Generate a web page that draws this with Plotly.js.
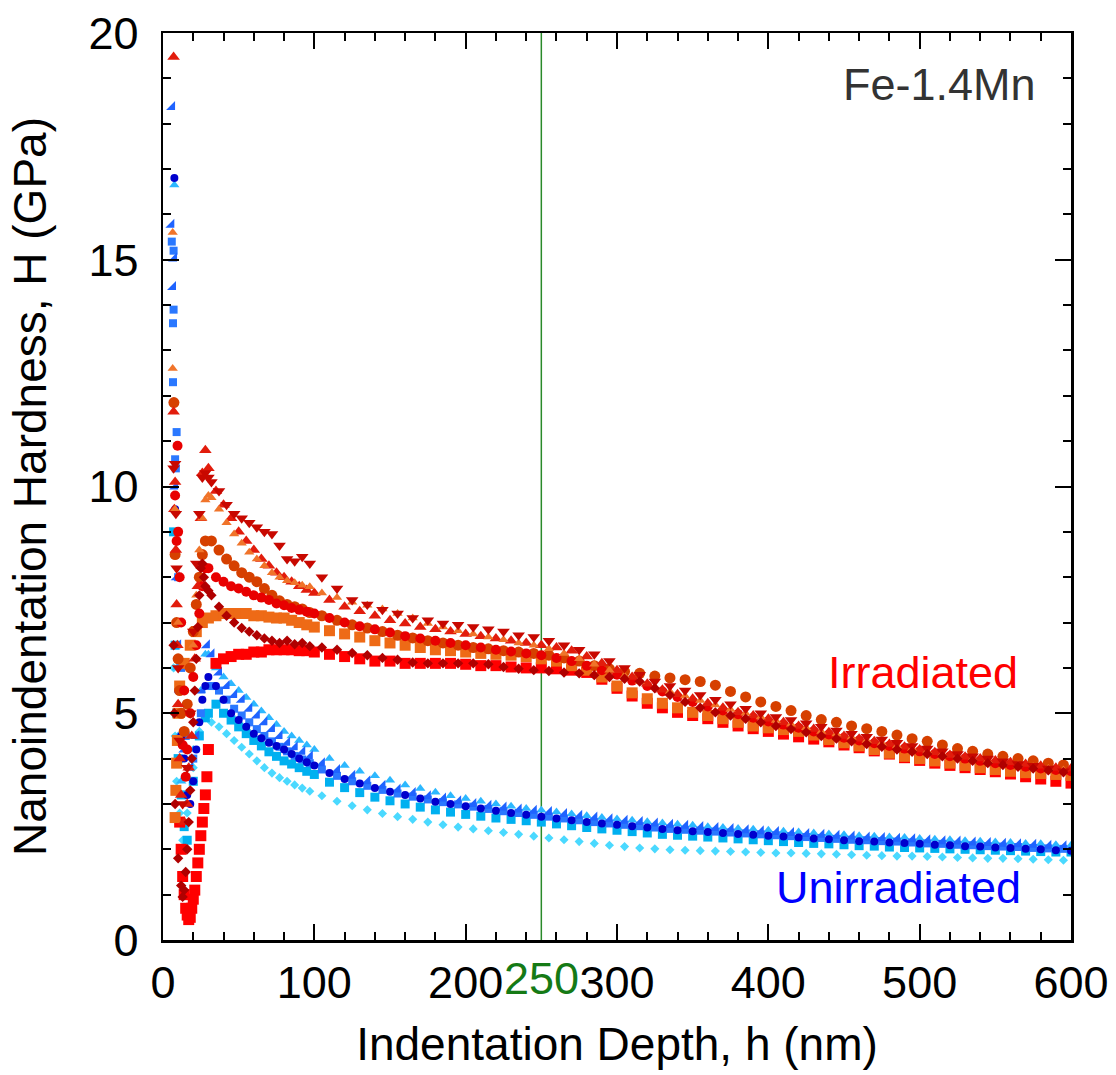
<!DOCTYPE html>
<html>
<head>
<meta charset="utf-8">
<script src="https://cdn.plot.ly/plotly-3.0.1.min.js"></script>
<style>html,body{margin:0;padding:0;background:#fff;}#chart{width:1116px;height:1075px;}</style>
</head>
<body>
<div id="chart"></div>
<script>
// ---- depth grids (nm) ----
const gridA = [30,35,40,45,50,55,60,65,70,75,80,85,90,95,100,
  110,120,130,140,150,160,170,180,190,200,210,220,230,240,250,260,270,280,290,300,
  310,320,330,340,350,360,370,380,390,400,410,420,430,440,450,460,470,480,490,500,
  510,520,530,540,550,560,570,580,590,600];
const gridB = [32,37,42,47,52,57,62,67,72,77,82,87,92,97,
  105,115,125,135,145,155,165,175,185,195,205,215,225,235,245,255,265,275,285,295,
  305,315,325,335,345,355,365,375,385,395,405,415,425,435,445,455,465,475,485,495,
  505,515,525,535,545,555,565,575,585,595];

// ---- Irradiated series (hardness, GPa) ----
const irrSqRed_x0 = [11,12,13,14,15,16,17,18,19,20,21,22,23,24,25,26,27,28,29];
const irrSqRed_y0 = [2.6,2.0,1.4,1.0,0.7,0.55,0.45,0.5,0.7,0.9,1.1,1.4,1.7,2.0,2.3,2.6,2.9,3.2,3.6];
const irrSqRed = [4.2,6.1,6.2,6.25,6.3,6.3,6.35,6.35,6.4,6.4,6.4,6.4,6.38,6.38,6.35,
  6.3,6.25,6.2,6.15,6.15,6.1,6.1,6.1,6.1,6.08,
  6.05,6.05,6.02,6.0,6.0,5.98,5.95,5.9,5.75,5.55,
  5.38,5.22,5.12,5.02,4.95,4.88,4.8,4.72,4.66,4.6,
  4.54,4.48,4.43,4.37,4.3,4.24,4.17,4.1,4.02,3.96,
  3.9,3.85,3.8,3.76,3.71,3.66,3.6,3.55,3.5,3.46];

const irrTriDown_x0 = [7,8,8.5,9,10,11,13,16,18,20,22,24,26,28,30];
const irrTriDown_y0 = [10.4,10.5,9.4,8.2,6.0,4.4,3.0,3.8,5.0,6.8,8.3,9.4,10.2,10.3,10.2];
const irrTriDown = [10.1,9.9,9.6,9.4,9.3,9.2,9.1,9.0,8.95,8.7,8.4,8.35,8.45,8.3,
  8.0,7.75,7.5,7.4,7.28,7.2,7.1,7.05,6.98,6.95,
  6.9,6.85,6.8,6.72,6.68,6.6,6.5,6.4,6.3,6.15,
  6.0,5.85,5.7,5.6,5.5,5.4,5.3,5.2,5.1,5.0,
  4.92,4.85,4.78,4.7,4.62,4.55,4.48,4.42,4.35,4.28,
  4.22,4.16,4.1,4.05,4.0,3.94,3.88,3.84,3.78,3.72];

const irrTriUp_x0 = [7,7,7.5,8,8.5,9,9.5,10,11,12,14,16,17,19,21,23,25,26,28];
const irrTriUp_y0 = [19.47,11.65,9.5,10.1,8.6,7.4,6.5,5.2,4.0,3.2,2.6,3.0,3.8,4.5,6.2,7.8,9.3,10.3,10.8];
const irrTriUp = [10.4,9.9,9.6,9.3,9.0,8.8,8.6,8.4,8.25,8.1,8.0,7.9,7.8,7.72,7.65,
  7.5,7.35,7.25,7.15,7.05,6.98,6.9,6.85,6.8,6.75,
  6.7,6.65,6.6,6.55,6.5,6.45,6.38,6.25,6.1,5.95,
  5.8,5.65,5.52,5.42,5.32,5.22,5.12,5.02,4.95,4.88,
  4.8,4.72,4.65,4.58,4.5,4.44,4.38,4.32,4.26,4.2,
  4.14,4.08,4.04,4.0,3.96,3.92,3.88,3.84,3.8,3.78];

const irrCircOr_x0 = [7.2,8,9,10,11,12,14,16,18,20,22,24,26,28];
const irrCircOr_y0 = [11.85,8.5,7.0,6.2,5.5,5.0,4.6,5.2,6.0,6.8,7.4,8.0,8.5,8.8];
const irrCircOr = [8.8,8.6,8.4,8.25,8.1,8.0,7.9,7.75,7.6,7.48,7.4,7.35,7.3,7.22,
  7.15,7.05,6.95,6.88,6.8,6.72,6.66,6.6,6.55,6.5,
  6.45,6.42,6.38,6.35,6.32,6.28,6.22,6.15,6.05,5.98,
  5.92,5.88,5.82,5.78,5.74,5.7,5.62,5.48,5.36,5.25,
  5.15,5.06,4.95,4.86,4.8,4.72,4.66,4.6,4.52,4.44,
  4.38,4.3,4.22,4.16,4.1,4.05,4.0,3.95,3.9,3.86];

const irrSqOr_x0 = [8,8.5,9,9.5,10,11,14,18,22,26];
const irrSqOr_y0 = [2.7,3.3,3.9,4.4,5.0,5.6,6.1,6.5,6.8,7.0];
const irrSqOr = [7.1,7.15,7.2,7.2,7.2,7.2,7.15,7.15,7.12,7.1,7.1,7.05,7.0,6.95,6.9,
  6.82,6.75,6.68,6.6,6.55,6.5,6.45,6.4,6.38,6.35,
  6.32,6.3,6.28,6.25,6.2,6.15,6.05,5.95,5.8,5.6,
  5.45,5.32,5.22,5.12,5.02,4.95,4.88,4.8,4.72,4.68,
  4.64,4.6,4.52,4.42,4.35,4.28,4.2,4.12,4.05,4.0,
  3.95,3.9,3.85,3.8,3.76,3.72,3.69,3.67,3.65,3.63];

const irrTriOr_x0 = [6.4,6.4,8,10,20,22,24,26,28,30];
const irrTriOr_y0 = [15.6,12.6,9.5,7.0,6.5,7.6,8.6,9.3,9.7,9.8];
const irrTriOr = [9.75,9.5,9.2,8.95,8.75,8.55,8.4,8.25,8.1,8.0,7.92,7.88,7.82,7.79,
  7.65,7.55,7.45,7.38,7.3,7.2,7.1,6.98,6.9,6.82,
  6.75,6.68,6.62,6.55,6.5,6.42,6.32,6.2,6.08,5.95,
  5.82,5.7,5.58,5.48,5.38,5.28,5.18,5.08,5.0,4.92,
  4.84,4.76,4.68,4.6,4.54,4.47,4.4,4.34,4.28,4.22,
  4.16,4.1,4.05,4.0,3.95,3.9,3.86,3.82,3.78,3.75];

const irrDiaDark_x0 = [7,7.5,8,10,12,13,14,15,16,17,18,19,20,21,22,23,24,25,26,27,28,30];
const irrDiaDark_y0 = [6.5,5.0,3.0,1.8,1.2,0.95,1.1,1.5,2.0,2.6,3.3,4.0,4.8,5.5,6.2,6.9,7.6,8.2,8.3,8.0,7.8,7.7];
const irrDiaDark = [7.6,7.35,7.15,7.0,6.88,6.8,6.72,6.65,6.6,6.55,6.6,6.52,6.55,6.48,
  6.45,6.4,6.33,6.28,6.22,6.18,6.12,6.1,6.1,6.1,
  6.1,6.08,6.02,5.98,5.95,5.93,5.9,5.88,5.84,5.8,
  5.76,5.7,5.55,5.4,5.25,5.12,5.02,4.95,4.88,4.8,
  4.72,4.65,4.58,4.5,4.44,4.38,4.32,4.26,4.2,4.15,
  4.1,4.05,4.0,3.95,3.9,3.86,3.82,3.78,3.74,3.7];

const irrCircRed_x0 = [8,9,9.6,10,11,12,13,14,15,16,18,20,22,24,26,28];
const irrCircRed_y0 = [9.8,8.8,10.9,9.0,8.0,7.0,4.3,5.5,3.6,4.2,5.0,5.8,6.5,7.2,7.8,8.2];
const irrCircRed = [8.2,8.0,7.9,7.8,7.75,7.68,7.6,7.55,7.5,7.42,7.38,7.32,7.28,7.24,7.2,
  7.1,7.0,6.92,6.85,6.78,6.7,6.65,6.6,6.55,6.5,
  6.45,6.4,6.36,6.32,6.28,6.22,6.15,6.05,5.95,5.85,
  5.72,5.6,5.48,5.36,5.25,5.15,5.06,4.98,4.9,4.82,
  4.75,4.68,4.6,4.53,4.46,4.4,4.34,4.28,4.22,4.16,
  4.1,4.05,4.0,3.95,3.9,3.86,3.82,3.78,3.75,3.72];

// ---- Unirradiated series (hardness, GPa) ----
const unCircDark_x0 = [7.5,8,9,10,12,14,16,18,20,22,24,26,28];
const unCircDark_y0 = [16.8,9.5,7.0,5.5,4.5,4.0,3.2,3.0,3.5,4.2,4.8,5.3,5.6];
const unCircDark = [5.8,5.6,5.3,5.0,4.85,4.7,4.55,4.45,4.35,4.28,4.2,4.1,4.0,3.92,3.85,
  3.68,3.55,3.45,3.35,3.27,3.2,3.12,3.05,3.0,2.95,
  2.9,2.85,2.8,2.76,2.72,2.68,2.64,2.6,2.57,2.54,
  2.51,2.48,2.45,2.42,2.4,2.38,2.36,2.34,2.32,2.3,
  2.28,2.26,2.24,2.22,2.2,2.18,2.17,2.15,2.14,2.12,
  2.1,2.09,2.07,2.06,2.04,2.03,2.01,2.0,1.98,1.97];

const unTriBlue_x0 = [5.5,6,6.6,7.3,8,9,10,12,14,18,22,26,29];
const unTriBlue_y0 = [15.77,18.37,14.4,15.03,10.0,8.0,6.5,5.0,4.2,3.8,4.5,5.5,6.5];
const unTriBlue = [6.3,5.9,5.6,5.4,5.3,5.1,4.95,4.8,4.65,4.5,4.35,4.25,4.15,4.05,
  3.9,3.75,3.62,3.5,3.4,3.32,3.24,3.17,3.12,3.06,
  3.0,2.96,2.92,2.88,2.85,2.82,2.78,2.74,2.7,2.66,
  2.63,2.6,2.57,2.54,2.52,2.49,2.47,2.45,2.42,2.4,
  2.38,2.36,2.34,2.32,2.3,2.28,2.26,2.25,2.23,2.22,
  2.2,2.18,2.17,2.15,2.14,2.12,2.11,2.1,2.08,2.07];

const unSqCyan_x0 = [7,8,9,10,12,14,16,20,24,28];
const unSqCyan_y0 = [9.0,6.5,5.0,4.0,3.2,2.5,2.2,3.5,4.5,4.9];
const unSqCyan = [5.0,5.2,5.0,4.85,4.7,4.55,4.4,4.28,4.15,4.05,3.95,3.88,3.8,3.72,3.65,
  3.48,3.36,3.25,3.15,3.07,3.0,2.93,2.87,2.82,2.77,
  2.73,2.69,2.66,2.63,2.6,2.56,2.52,2.48,2.45,2.42,
  2.39,2.36,2.33,2.31,2.29,2.27,2.25,2.23,2.21,2.19,
  2.17,2.15,2.13,2.12,2.1,2.08,2.07,2.05,2.04,2.03,
  2.02,2.01,2.0,1.99,1.98,1.97,1.96,1.95,1.94,1.94];

const unDiaLight_x0 = [7,8,9,11,13,16,20,24,28];
const unDiaLight_y0 = [6.0,4.5,3.5,2.8,2.2,2.8,3.8,4.6,4.9];
const unDiaLight = [4.8,4.7,4.55,4.4,4.25,4.1,3.95,3.8,3.68,3.58,3.5,3.42,3.35,3.28,
  3.18,3.06,2.96,2.87,2.79,2.72,2.66,2.6,2.54,2.49,
  2.45,2.41,2.37,2.33,2.29,2.25,2.21,2.17,2.13,2.09,
  2.06,2.03,2.01,1.99,1.98,1.97,1.96,1.95,1.94,1.93,
  1.92,1.92,1.91,1.9,1.89,1.88,1.87,1.86,1.85,1.85,
  1.84,1.83,1.82,1.81,1.8,1.8,1.79,1.78,1.77,1.76];

const unTriSky_x0 = [7.5,8,9,10,12,15,20,25,28];
const unTriSky_y0 = [16.65,8.5,6.0,4.5,3.5,3.0,4.2,5.5,6.3];
const unTriSky = [6.3,6.0,5.8,5.65,5.5,5.35,5.2,5.05,4.9,4.75,4.6,4.5,4.4,4.3,4.2,
  4.0,3.85,3.72,3.62,3.52,3.42,3.34,3.26,3.18,3.12,
  3.06,3.0,2.95,2.9,2.86,2.82,2.78,2.74,2.7,2.67,
  2.64,2.61,2.58,2.55,2.53,2.5,2.48,2.46,2.44,2.42,
  2.4,2.38,2.36,2.34,2.32,2.3,2.29,2.27,2.26,2.24,
  2.22,2.21,2.19,2.18,2.16,2.15,2.13,2.12,2.1,2.09];

const unSqBlue_x0 = [5.8,6.6,7,7,6.6,9,8,8.5,10,12,15,20,25];
const unSqBlue_y0 = [15.4,13.6,15.2,13.9,12.3,11.2,10.6,10.4,8.0,6.0,4.5,4.0,5.0];
const unSqBlue = [5.6,5.5,5.3,5.1,4.95,4.8,4.65,4.5,4.38,4.26,4.16,4.06,3.98,3.9,
  3.76,3.62,3.5,3.4,3.31,3.23,3.16,3.1,3.04,2.99,
  2.94,2.89,2.84,2.8,2.76,2.72,2.68,2.64,2.6,2.57,
  2.54,2.51,2.48,2.45,2.43,2.41,2.39,2.37,2.35,2.33,
  2.31,2.29,2.27,2.25,2.23,2.21,2.2,2.18,2.17,2.15,
  2.13,2.12,2.1,2.09,2.07,2.06,2.05,2.03,2.02,2.01];

const xTicks = [0,100,200,300,400,500,600];
const yTicks = [0,5,10,15,20];
const markDepth = 250;
const sampleLabel = "Fe-1.4Mn";

// ---- build traces ----
function tr(x0, y0, grid, ys, symbol, color, size) {
  return {
    type: 'scatter', mode: 'markers',
    x: x0.concat(grid), y: y0.concat(ys),
    marker: {symbol: symbol, color: color, size: size, line: {width: 0}},
    hoverinfo: 'x+y', showlegend: false
  };
}
const traces = [
  tr(unDiaLight_x0, unDiaLight_y0, gridB, unDiaLight, 'diamond', '#4ad9ff', 7),
  tr(unSqCyan_x0, unSqCyan_y0, gridA, unSqCyan, 'square', '#00b0f0', 9),
  tr(unTriSky_x0, unTriSky_y0, gridA, unTriSky, 'triangle-up', '#2cb8ff', 9),
  tr(unSqBlue_x0, unSqBlue_y0, gridB, unSqBlue, 'square', '#2a78ff', 8),
  tr(unTriBlue_x0, unTriBlue_y0, gridB, unTriBlue, 'triangle-se', '#1f63ff', 10),
  tr(unCircDark_x0, unCircDark_y0, gridA, unCircDark, 'circle', '#0000cd', 8),
  tr(irrSqRed_x0, irrSqRed_y0, gridA, irrSqRed, 'square', '#ff0000', 11),
  tr(irrSqOr_x0, irrSqOr_y0, gridA, irrSqOr, 'square', '#ee6a16', 11),
  tr(irrCircOr_x0, irrCircOr_y0, gridB, irrCircOr, 'circle', '#d64000', 11),
  tr(irrCircRed_x0, irrCircRed_y0, gridA, irrCircRed, 'circle', '#e80000', 10),
  tr(irrTriUp_x0, irrTriUp_y0, gridA, irrTriUp, 'triangle-up', '#e21c0c', 11),
  tr(irrTriOr_x0, irrTriOr_y0, gridB, irrTriOr, 'triangle-up', '#f0742a', 9),
  tr(irrTriDown_x0, irrTriDown_y0, gridB, irrTriDown, 'triangle-down', '#c80800', 11),
  tr(irrDiaDark_x0, irrDiaDark_y0, gridB, irrDiaDark, 'diamond', '#b00000', 8)
];

const FONT = 'Liberation Sans, Arial, Helvetica, sans-serif';
const axisCommon = {
  showline: true, linecolor: '#000', linewidth: 2.5, mirror: 'ticks',
  ticks: 'inside', ticklen: 16, tickwidth: 2, tickcolor: '#000',
  showgrid: false, zeroline: false,
  tickfont: {family: FONT, size: 45, color: '#000'}
};

const layout = {
  width: 1116, height: 1075,
  margin: {l: 163, r: 45, t: 33, b: 135},
  paper_bgcolor: '#fff', plot_bgcolor: '#fff',
  showlegend: false,
  font: {family: FONT, color: '#000'},
  xaxis: Object.assign({}, axisCommon, {
    range: [0, 600], tickvals: xTicks, ticktext: xTicks.map(String),
    minor: {dtick: 20, tick0: 0, ticks: 'inside', ticklen: 8, tickwidth: 2, tickcolor: '#000'},
    ticklabelstandoff: 1,
    title: {text: 'Indentation Depth, h (nm)', font: {family: FONT, size: 46, color: '#000'}, standoff: 22}
  }),
  yaxis: Object.assign({}, axisCommon, {
    range: [0, 20], tickvals: yTicks, ticktext: yTicks.map(String),
    minor: {dtick: 1, tick0: 0, ticks: 'inside', ticklen: 8, tickwidth: 2, tickcolor: '#000'},
    ticklabelstandoff: 13,
    title: {text: 'Nanoindentation Hardness, H (GPa)', font: {family: FONT, size: 46, color: '#000'}, standoff: 28}
  }),
  shapes: [{
    type: 'line', xref: 'x', yref: 'y', x0: markDepth, x1: markDepth, y0: 0, y1: 20,
    line: {color: '#2a8a2a', width: 1.5}, layer: 'below'
  }],
  annotations: [
    {text: sampleLabel, xref: 'paper', yref: 'paper', x: 0.9637, y: 0.9427, xanchor: 'right', yanchor: 'middle',
     showarrow: false, font: {family: FONT, size: 45, color: '#333333'}},
    {text: 'Irradiated', xref: 'paper', yref: 'paper', x: 0.9438, y: 0.2944, xanchor: 'right', yanchor: 'middle',
     showarrow: false, font: {family: FONT, size: 45, color: '#ff0000'}},
    {text: 'Unirradiated', xref: 'paper', yref: 'paper', x: 0.947, y: 0.0584, xanchor: 'right', yanchor: 'middle',
     showarrow: false, font: {family: FONT, size: 45, color: '#0000ff'}},
    {text: String(markDepth), xref: 'x', yref: 'paper', x: markDepth, y: -0.0419, xanchor: 'center', yanchor: 'middle',
     showarrow: false, font: {family: FONT, size: 45, color: '#157a15'}}
  ]
};

Plotly.newPlot('chart', traces, layout, {displayModeBar: false, staticPlot: true});
</script>
</body>
</html>
